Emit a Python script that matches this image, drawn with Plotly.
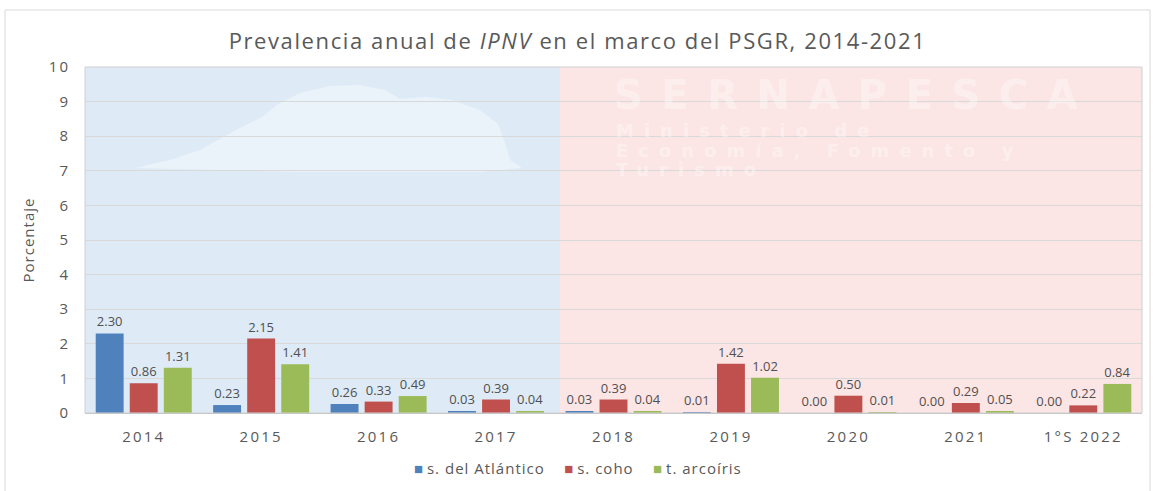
import plotly.graph_objects as go

categorias = ["2014", "2015", "2016", "2017", "2018", "2019", "2020", "2021", "1°S 2022"]
s_atlantico = [2.30, 0.23, 0.26, 0.03, 0.03, 0.01, 0.00, 0.00, 0.00]
s_coho = [0.86, 2.15, 0.33, 0.39, 0.39, 1.42, 0.50, 0.29, 0.22]
t_arcoiris = [1.31, 1.41, 0.49, 0.04, 0.04, 1.02, 0.01, 0.05, 0.84]
y_ticks = list(range(0, 11))

series = [
    ("s. del Atlántico", s_atlantico, "#4F81BD"),
    ("s. coho", s_coho, "#C0504D"),
    ("t. arcoíris", t_arcoiris, "#9BBB59"),
]

FONT = "Open Sans, sans-serif"
GRAY = "#595959"

# Plot area in pixels (used to place decorative watermark elements)
PL, PR, PT, PB = 85, 1142, 67, 413


def px(x):
    return (x - PL) / (PR - PL)


def py(y):
    return (PB - y) / (PB - PT)


def spaced(text, ls):
    return f"<span style='letter-spacing:{ls}px'>{text}</span>"


fig = go.Figure()
for nombre, valores, color in series:
    fig.add_trace(go.Bar(
        x=categorias, y=valores, name=nombre, showlegend=False,
        marker=dict(color=color, line=dict(width=0)),
        text=[f"{v:.2f}" for v in valores],
        textposition="outside", cliponaxis=False,
        textfont=dict(size=13, color="#505050", family=FONT),
    ))

# Fondo del área de trazado: azul a la izquierda, rosado a la derecha
split = px(560)
fig.add_shape(type="rect", xref="paper", yref="paper", x0=0, x1=split, y0=0, y1=1,
              fillcolor="#DEEBF7", line=dict(width=0), layer="below")
fig.add_shape(type="rect", xref="paper", yref="paper", x0=split, x1=1, y0=0, y1=1,
              fillcolor="#FCE5E5", line=dict(width=0), layer="below")

# Silueta tenue del escudo (marca de agua, lado izquierdo)
silueta = [(135, 168), (170, 160), (200, 150), (218, 140), (240, 128), (262, 117),
           (278, 104), (300, 93), (330, 86), (360, 85), (385, 90), (400, 99),
           (425, 97), (452, 100), (480, 110), (498, 124), (505, 143), (510, 160),
           (522, 168), (480, 172), (300, 172)]
path = "M " + " L ".join(f"{px(a):.4f},{py(b):.4f}" for a, b in silueta) + " Z"
fig.add_shape(type="path", xref="paper", yref="paper", path=path,
              fillcolor="rgba(255,255,255,0.38)", line=dict(width=0), layer="below")

# Borde del área de trazado
fig.add_shape(type="rect", xref="paper", yref="paper", x0=0, x1=1, y0=0, y1=1,
              line=dict(color="#D0D0D0", width=1), fillcolor="rgba(0,0,0,0)")
# Marco exterior del gráfico
fig.add_shape(type="rect", xref="paper", yref="paper",
              x0=px(5), x1=px(1150), y0=py(500), y1=py(10),
              line=dict(color="#D9D9D9", width=1), fillcolor="rgba(0,0,0,0)")

# Marca de agua institucional (lado derecho)
wm = "rgba(255,255,255,0.4)"
fig.add_annotation(xref="paper", yref="paper", x=px(612), y=py(95), xanchor="left", yanchor="middle",
                   text="<b>" + spaced("SERNAPESCA", 18.5) + "</b>", showarrow=False,
                   font=dict(size=40, color=wm, family="DejaVu Sans"))
for linea, ypix in [("Ministerio de", 130), ("Economía, Fomento y", 150), ("Turismo", 169)]:
    fig.add_annotation(xref="paper", yref="paper", x=px(614), y=py(ypix), xanchor="left",
                       yanchor="middle", text="<b>" + spaced(linea, 10) + "</b>",
                       showarrow=False, font=dict(size=18, color=wm, family="DejaVu Sans"))

# Leyenda horizontal bajo el eje
leyenda = "&nbsp;&nbsp;&nbsp;&nbsp;&nbsp;".join(
    f"<span style='color:{c}'>■</span> {spaced(n, 1)}" for n, _, c in series
)
fig.add_annotation(xref="paper", yref="paper", x=px(578), y=py(468), xanchor="center", yanchor="middle",
                   text=leyenda, showarrow=False,
                   font=dict(size=15, color=GRAY, family=FONT))

titulo = (spaced("Prevalencia anual de ", 1.6) + "<i>" + spaced("IPNV", 1.6) + "</i>"
          + spaced(" en el marco del PSGR, 2014-2021", 1.6))

fig.update_layout(
    width=1155, height=491,
    margin=dict(l=PL, r=1155 - PR, t=PT, b=491 - PB, autoexpand=False),
    paper_bgcolor="white", plot_bgcolor="rgba(0,0,0,0)",
    title=dict(text=titulo, x=0.5, xanchor="center", y=0.915, yanchor="middle",
               font=dict(size=22, color=GRAY, family=FONT)),
    barmode="group", bargap=0.13, bargroupgap=0.18,
    font=dict(family=FONT, color=GRAY),
    showlegend=False,
    xaxis=dict(showgrid=False, showline=True, linecolor="#BFBFBF", ticks="",
               automargin=False, ticklabelstandoff=10,
               tickvals=categorias, ticktext=[spaced(c, 2.2) for c in categorias],
               tickfont=dict(size=15, color=GRAY, family=FONT)),
    yaxis=dict(range=[0, 10], showgrid=True, gridcolor="#D9D9D9",
               zeroline=False, ticks="", automargin=False, ticklabelstandoff=14,
               tickvals=y_ticks, ticktext=[spaced(str(t), 2) for t in y_ticks],
               tickfont=dict(size=15, color=GRAY, family=FONT),
               title=dict(text=spaced("Porcentaje", 1), font=dict(size=15, color=GRAY, family=FONT),
                          standoff=10)),
)

fig.write_html("out.html")
